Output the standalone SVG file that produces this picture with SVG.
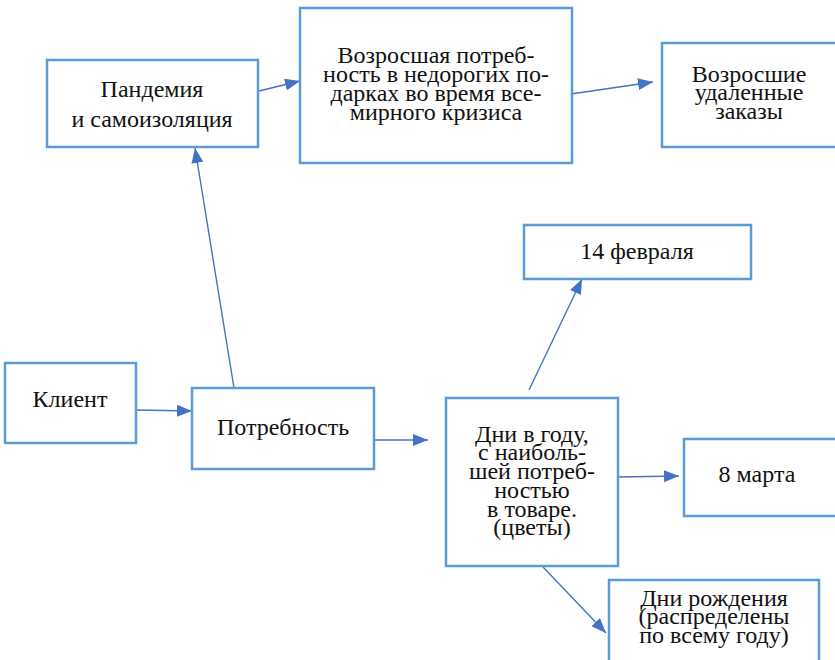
<svg xmlns="http://www.w3.org/2000/svg" width="835" height="660" viewBox="0 0 835 660">
<style>
.box{fill:#fff;stroke:#5B9BD5;stroke-width:2.5}
.t{font-family:'Liberation Serif','Times New Roman',serif;font-size:24px;fill:#111;text-anchor:middle}
.c{stroke:#4472C4;stroke-width:1.4;fill:none;marker-end:url(#ah)}
</style>
<defs>
<marker id="ah" markerWidth="16" markerHeight="12" refX="15" refY="6" orient="auto" markerUnits="userSpaceOnUse">
<path d="M0,0 L15,6 L0,12 Z" fill="#4472C4"/>
</marker>
</defs>
<rect width="835" height="660" fill="#fff"/>
<g id="connectors">
<line class="c" x1="259" y1="91" x2="300" y2="81"/>
<line class="c" x1="571" y1="94" x2="653" y2="82"/>
<line class="c" x1="234" y1="388" x2="195" y2="148"/>
<line class="c" x1="136" y1="410" x2="192" y2="411"/>
<line class="c" x1="374" y1="440" x2="428" y2="440"/>
<line class="c" x1="529" y1="390" x2="582" y2="279"/>
<line class="c" x1="618" y1="477" x2="679" y2="476"/>
<line class="c" x1="543" y1="567" x2="606" y2="633"/>
</g>
<g id="pandemia">
<rect class="box" x="47" y="60" width="211" height="87"/>
<text class="t" x="152" y="97">Пандемия</text>
<text class="t" x="152" y="127">и самоизоляция</text>
</g>
<g id="need-gifts">
<rect class="box" x="300" y="8" width="272" height="155"/>
<text class="t" x="436" y="63">Возросшая потреб-</text>
<text class="t" x="436" y="82">ность в недорогих по-</text>
<text class="t" x="436" y="101">дарках во время все-</text>
<text class="t" x="436" y="120">мирного кризиса</text>
</g>
<g id="remote-orders">
<rect class="box" x="662" y="43" width="178" height="104"/>
<text class="t" x="749" y="82">Возросшие</text>
<text class="t" x="749" y="100">удаленные</text>
<text class="t" x="749" y="119">заказы</text>
</g>
<g id="feb14">
<rect class="box" x="524" y="225" width="227" height="54"/>
<text class="t" x="637" y="259">14 февраля</text>
</g>
<g id="client">
<rect class="box" x="5" y="363" width="131" height="80"/>
<text class="t" x="70" y="407">Клиент</text>
</g>
<g id="need">
<rect class="box" x="192" y="388" width="182" height="81"/>
<text class="t" x="283" y="435">Потребность</text>
</g>
<g id="days">
<rect class="box" x="446" y="398" width="172" height="168"/>
<text class="t" x="532" y="442">Дни в году,</text>
<text class="t" x="532" y="460">с наиболь-</text>
<text class="t" x="532" y="479">шей потреб-</text>
<text class="t" x="532" y="498">ностью</text>
<text class="t" x="532" y="517">в товаре.</text>
<text class="t" x="532" y="535">(цветы)</text>
</g>
<g id="march8">
<rect class="box" x="684" y="439" width="160" height="77"/>
<text class="t" x="757" y="482">8 марта</text>
</g>
<g id="birthdays">
<rect class="box" x="609" y="580" width="210" height="90"/>
<text class="t" x="714" y="606">Дни рождения</text>
<text class="t" x="714" y="624">(распределены</text>
<text class="t" x="714" y="643">по всему году)</text>
</g>
</svg>
